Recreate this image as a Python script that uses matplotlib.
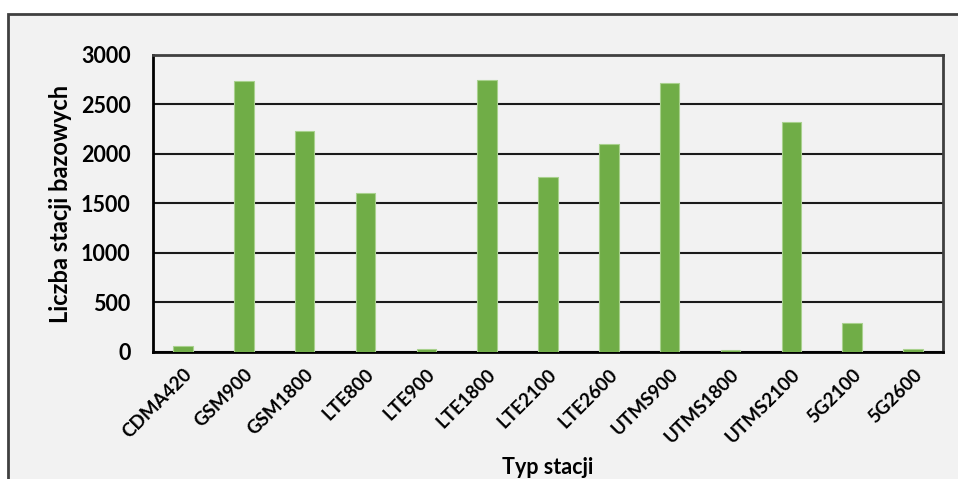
import numpy as np
import matplotlib.pyplot as plt
from matplotlib.patches import Rectangle

# typy stacji i liczba stacji bazowych
stations = ["CDMA420", "GSM900", "GSM1800", "LTE800", "LTE900", "LTE1800", "LTE2100",
            "LTE2600", "UTMS900", "UTMS1800", "UTMS2100", "5G2100", "5G2600"]
counts = [55, 2735, 2234, 1604, 27, 2744, 1763, 2103, 2716, 17, 2319, 287, 24]
yticks = [0, 500, 1000, 1500, 2000, 2500, 3000]

plt.rcParams['font.family'] = ['Lato', 'DejaVu Sans']
plt.rcParams['font.weight'] = 'bold'

fig = plt.figure(figsize=(9.58, 4.79), dpi=100)
fig.patch.set_facecolor('white')

# szare tlo z ramka (obciete z prawej i od dolu)
bg = Rectangle((8/958, -0.1), 1.2, 1.1 - 14/479, transform=fig.transFigure,
               facecolor='#F2F2F2', edgecolor='#404040', linewidth=2, zorder=-10)
fig.patches.append(bg)

ax = fig.add_axes([0.1594, 0.2657, 0.8253, 0.6195])
ax.set_facecolor('#F2F2F2')

pos = np.arange(len(stations))
ax.bar(pos, counts, width=0.32, color='#70AD47', edgecolor='#A9D18E', linewidth=0.8, zorder=3)

ax.set_xlim(-0.5, len(stations) - 0.5)
ax.set_ylim(0, 3000)
ax.set_yticks(yticks)
ax.yaxis.grid(True, color='#1a1a1a', linewidth=1.5, zorder=1)
ax.set_axisbelow(True)

ax.set_xticks(pos)
ax.set_xticklabels(stations, rotation=45, ha='right', rotation_mode='anchor',
                   fontsize=13.5, fontweight='bold')
for lbl in ax.get_yticklabels():
    lbl.set_fontsize(15.5)
    lbl.set_fontweight('bold')
ax.tick_params(axis='both', length=0)
ax.tick_params(axis='y', pad=16)
ax.tick_params(axis='x', pad=10)

for side in ['left', 'bottom']:
    ax.spines[side].set_color('black')
    ax.spines[side].set_linewidth(2)
for side in ['top', 'right']:
    ax.spines[side].set_color('#404040')
    ax.spines[side].set_linewidth(2)

fig.text(60/958, 1 - 204/479, 'Liczba stacji bazowych', rotation=90, ha='center', va='center',
         fontsize=17, fontweight='bold')
fig.text(548/958, 1 - 467/479, 'Typ stacji', ha='center', va='center',
         fontsize=15.5, fontweight='bold')

fig.savefig('out.png', dpi=100, facecolor=fig.get_facecolor())
